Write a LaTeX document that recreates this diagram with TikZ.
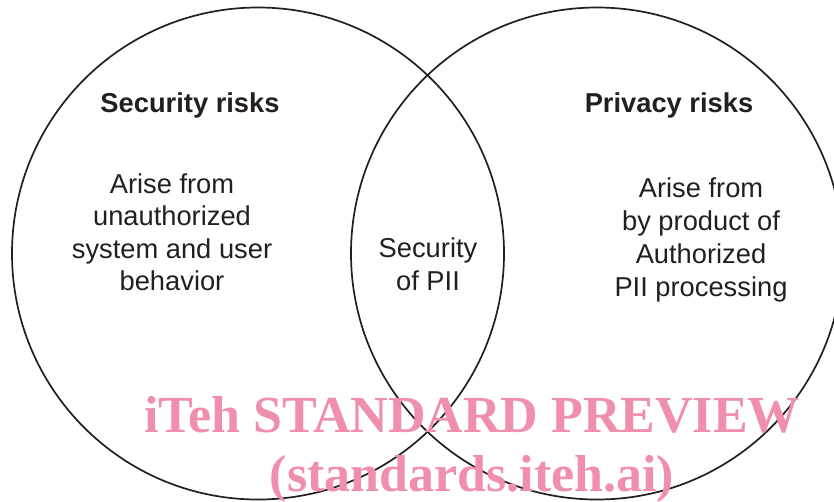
\documentclass[tikz,border=0pt]{standalone}
\usepackage{fontspec}
\setmainfont{Liberation Sans}
\newfontfamily\wmfont{Liberation Serif}
\definecolor{inkc}{RGB}{35,31,32}
\definecolor{wmpink}{RGB}{239,143,172}
\begin{document}
\begin{tikzpicture}[x=1pt,y=-1pt,
  ring/.style={draw=inkc,line width=1.7pt},
  head/.style={font=\fontsize{27.3}{32.5}\selectfont\bfseries,text=inkc,inner sep=0pt},
  body/.style={font=\fontsize{27.3}{32.5}\selectfont,text=inkc,align=center,inner sep=0pt},
  wm/.style={font=\wmfont\fontsize{52}{60}\selectfont\bfseries,text=wmpink,inner sep=0pt,anchor=base}]
\useasboundingbox (0,0) rectangle (834,501);
\begin{scope}
\clip (0,0) rectangle (834,501);
\draw[ring] (258,253.5) circle[radius=246];
\draw[ring] (597,253.5) circle[radius=246];
\end{scope}
\node[head] (sr) at (190,105) {Security risks};
\node[head] (pr) at (669,105) {Privacy risks};
\node[body] (st) at (172,232) {Arise from\\unauthorized\\system and user\\behavior};
\node[body] (mid) at (428,264) {Security\\of PII};
\node[body,font=\fontsize{27.3}{33}\selectfont] (pt) at (701,240) {Arise from\\by product of\\Authorized\\PII processing};
\node[wm] (w1) at (472,432) {iTeh STANDARD PREVIEW};
\node[wm] (w2) at (472,491) {(standards.iteh.ai)};
\end{tikzpicture}
\end{document}
